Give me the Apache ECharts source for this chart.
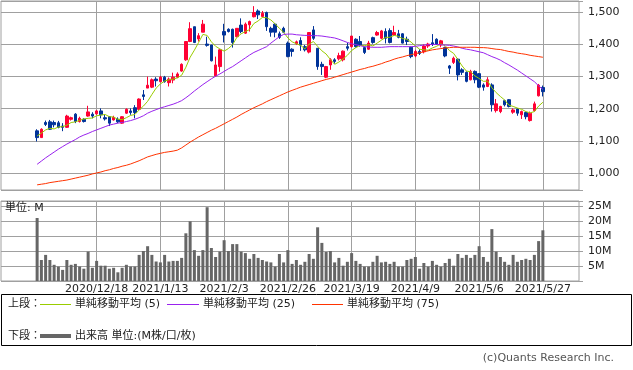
<!DOCTYPE html>
<html><head><meta charset="utf-8">
<script src="https://cdn.jsdelivr.net/npm/echarts@6/dist/echarts.min.js"></script>
<style>html,body{margin:0;padding:0;background:#fff}#c{width:633px;height:370px}</style>
</head><body><div id="c"></div>
<script>
const dates = ['2020/11/30','2020/12/1','2020/12/2','2020/12/3','2020/12/4','2020/12/7','2020/12/8','2020/12/9','2020/12/10','2020/12/11',
 '2020/12/14','2020/12/15','2020/12/16','2020/12/17','2020/12/18','2020/12/21','2020/12/22','2020/12/23','2020/12/24','2020/12/25',
 '2020/12/28','2020/12/29','2020/12/30','2021/1/4','2021/1/5','2021/1/6','2021/1/7','2021/1/8','2021/1/12','2021/1/13',
 '2021/1/14','2021/1/15','2021/1/18','2021/1/19','2021/1/20','2021/1/21','2021/1/22','2021/1/25','2021/1/26','2021/1/27',
 '2021/1/28','2021/1/29','2021/2/1','2021/2/2','2021/2/3','2021/2/4','2021/2/5','2021/2/8','2021/2/9','2021/2/10',
 '2021/2/12','2021/2/15','2021/2/16','2021/2/17','2021/2/18','2021/2/19','2021/2/22','2021/2/24','2021/2/25','2021/2/26',
 '2021/3/1','2021/3/2','2021/3/3','2021/3/4','2021/3/5','2021/3/8','2021/3/9','2021/3/10','2021/3/11','2021/3/12',
 '2021/3/15','2021/3/16','2021/3/17','2021/3/18','2021/3/19','2021/3/22','2021/3/23','2021/3/24','2021/3/25','2021/3/26',
 '2021/3/29','2021/3/30','2021/3/31','2021/4/1','2021/4/2','2021/4/5','2021/4/6','2021/4/7','2021/4/8','2021/4/9',
 '2021/4/12','2021/4/13','2021/4/14','2021/4/15','2021/4/16','2021/4/19','2021/4/20','2021/4/21','2021/4/22','2021/4/23',
 '2021/4/26','2021/4/27','2021/4/28','2021/4/30','2021/5/6','2021/5/7','2021/5/10','2021/5/11','2021/5/12','2021/5/13',
 '2021/5/14','2021/5/17','2021/5/18','2021/5/19','2021/5/20','2021/5/21','2021/5/24','2021/5/25','2021/5/26','2021/5/27'];

const open = [1131,1110,1157,1159,1157,1156,1146,1142,1167,1183,
 1160,1167,1177,1183,1184,1193,1172,1175,1165,1167,
 1155,1186,1193,1203,1198,1243,1264,1267,1292,1284,
 1298,1281,1289,1298,1317,1352,1409,1455,1417,1438,
 1401,1398,1302,1331,1440,1447,1447,1424,1460,1435,
 1461,1486,1504,1487,1499,1450,1463,1433,1450,1404,
 1385,1402,1412,1393,1376,1445,1388,1338,1298,1336,
 1352,1355,1352,1393,1393,1416,1409,1390,1385,1421,
 1429,1419,1440,1443,1429,1433,1433,1416,1391,1364,
 1378,1377,1395,1405,1416,1398,1390,1333,1344,1354,
 1321,1313,1290,1316,1309,1274,1269,1274,1194,1191,
 1225,1228,1189,1199,1181,1188,1163,1194,1240,1266];

const close = [1110,1136,1151,1136,1150,1142,1142,1177,1172,1160,
 1170,1160,1190,1177,1193,1181,1168,1155,1173,1159,
 1175,1198,1188,1188,1230,1238,1273,1290,1287,1298,
 1284,1292,1298,1308,1338,1409,1449,1406,1427,1463,
 1397,1349,1336,1383,1429,1440,1406,1450,1440,1463,
 1471,1499,1492,1497,1455,1438,1438,1422,1438,1362,
 1378,1408,1398,1383,1437,1419,1331,1331,1331,1352,
 1347,1365,1379,1388,1426,1393,1398,1375,1404,1406,
 1437,1442,1419,1406,1437,1422,1404,1409,1362,1378,
 1372,1395,1401,1401,1401,1411,1364,1326,1357,1305,
 1313,1285,1316,1290,1267,1267,1290,1212,1215,1207,
 1212,1207,1196,1186,1191,1175,1186,1215,1273,1253];

const low = [1098,1110,1146,1134,1142,1139,1130,1140,1163,1155,
 1157,1157,1175,1170,1181,1170,1163,1146,1163,1155,
 1153,1184,1181,1170,1196,1227,1264,1264,1269,1282,
 1281,1269,1279,1295,1315,1349,1407,1404,1409,1438,
 1393,1347,1300,1315,1406,1437,1390,1422,1435,1433,
 1440,1484,1479,1484,1442,1424,1422,1417,1435,1360,
 1362,1398,1380,1378,1372,1414,1321,1305,1295,1321,
 1340,1350,1347,1381,1390,1390,1393,1370,1383,1402,
 1427,1416,1403,1403,1426,1419,1403,1398,1357,1360,
 1367,1372,1389,1395,1398,1391,1360,1308,1339,1288,
 1305,1282,1288,1279,1264,1256,1267,1191,1188,1186,
 1207,1204,1184,1178,1168,1167,1160,1191,1238,1238];

const high = [1136,1139,1163,1165,1163,1162,1155,1181,1175,1186,
 1175,1170,1209,1189,1196,1201,1181,1177,1178,1173,
 1177,1201,1201,1211,1232,1258,1300,1294,1298,1302,
 1302,1297,1312,1313,1341,1410,1469,1455,1435,1476,
 1424,1398,1362,1385,1464,1450,1449,1450,1481,1468,
 1474,1519,1509,1504,1502,1455,1466,1440,1455,1409,
 1388,1412,1422,1398,1437,1457,1388,1346,1333,1357,
 1357,1374,1381,1405,1426,1419,1426,1393,1411,1424,
 1442,1445,1450,1450,1458,1445,1435,1424,1393,1383,
 1385,1400,1405,1432,1419,1414,1393,1336,1362,1357,
 1326,1316,1321,1319,1311,1279,1298,1279,1230,1209,
 1228,1230,1201,1201,1194,1191,1191,1222,1277,1272];

const ma5 = [1115,1124,1134,1139,1137,1143,1144,1149,1157,1159,
 1164,1168,1170,1171,1178,1180,1182,1175,1174,1167,
 1166,1172,1179,1182,1196,1208,1223,1244,1264,1277,
 1286,1290,1292,1296,1304,1329,1360,1382,1406,1431,
 1428,1408,1394,1386,1379,1387,1399,1422,1433,1440,
 1446,1465,1473,1484,1483,1476,1464,1450,1438,1420,
 1408,1402,1397,1386,1401,1409,1394,1380,1370,1353,
 1338,1345,1355,1366,1381,1390,1397,1396,1399,1395,
 1404,1413,1422,1422,1428,1425,1418,1416,1407,1395,
 1385,1383,1382,1389,1394,1402,1396,1381,1372,1353,
 1333,1317,1315,1302,1294,1285,1286,1265,1250,1238,
 1227,1211,1207,1202,1198,1191,1187,1191,1208,1220];

const ma25 = [1027,1037,1047,1056,1065,1074,1082,1090,1097,1104,
 1112,1118,1123,1129,1134,1139,1144,1149,1152,1155,
 1157,1160,1163,1167,1172,1178,1186,1192,1197,1202,
 1206,1210,1214,1219,1225,1234,1244,1255,1265,1275,
 1284,1293,1301,1308,1316,1324,1331,1340,1349,1358,
 1367,1375,1381,1387,1393,1404,1414,1424,1431,1432,
 1432,1430,1429,1428,1428,1427,1427,1426,1424,1422,
 1420,1416,1411,1406,1402,1399,1396,1393,1392,1391,
 1391,1391,1392,1393,1393,1393,1393,1393,1393,1394,
 1396,1398,1399,1400,1400,1399,1398,1397,1395,1392,
 1388,1385,1383,1380,1377,1374,1368,1362,1357,1351,
 1343,1336,1328,1320,1311,1302,1293,1284,1271,1260];

const ma75 = [963,965,967,970,972,974,976,978,981,984,
 987,990,993,997,1000,1003,1007,1010,1014,1017,
 1021,1024,1028,1033,1038,1044,1050,1054,1058,1061,
 1064,1066,1068,1071,1078,1087,1096,1104,1112,1119,
 1126,1133,1139,1146,1153,1160,1167,1174,1182,1189,
 1196,1203,1209,1215,1222,1228,1234,1240,1246,1252,
 1257,1262,1267,1271,1275,1279,1283,1287,1291,1294,
 1298,1302,1306,1310,1314,1318,1322,1325,1329,1332,
 1336,1340,1345,1349,1354,1358,1361,1365,1368,1371,
 1374,1377,1380,1383,1385,1387,1389,1390,1391,1391,
 1391,1391,1391,1391,1390,1390,1389,1387,1385,1384,
 1381,1378,1376,1373,1371,1369,1366,1364,1362,1360];

const volume = [21.0,7.0,8.7,7.0,5.4,4.8,3.7,7.0,5.4,5.7,
 4.8,4.1,9.8,4.4,6.7,5.1,5.1,4.1,4.4,2.9,
 4.4,5.4,4.8,4.8,8.7,10.0,11.6,8.7,6.5,6.2,
 8.7,6.5,6.7,6.7,7.7,15.9,19.9,10.3,8.4,10.3,
 24.6,11.0,8.0,9.8,13.6,10.0,12.3,12.3,9.8,9.3,
 7.4,9.0,7.7,7.0,6.5,6.2,4.8,9.0,6.2,10.3,
 5.7,7.0,5.4,6.4,9.0,7.4,17.9,12.7,9.7,10.0,
 6.2,7.7,5.1,6.4,9.3,6.7,5.7,4.8,4.8,6.4,
 8.4,6.2,6.4,5.7,6.4,4.8,4.8,7.0,7.4,8.0,
 4.1,6.0,4.8,6.7,5.4,4.8,6.0,7.4,5.1,9.0,
 7.7,8.7,7.7,8.7,11.6,8.0,6.4,17.3,9.8,8.0,
 6.4,5.4,8.7,6.4,7.0,7.4,7.0,8.7,13.3,16.9];

const tickLabels = ['2020/12/18','2021/1/13','2021/2/3','2021/2/26','2021/3/19','2021/4/9','2021/5/6','2021/5/27'];

// empty slots on each side of the data (layout only)
const PAD = 8;
const cats = Array.from({length: PAD}, (_, k) => 'L' + k)
  .concat(dates, Array.from({length: PAD}, (_, k) => 'R' + k));
const blank = Array(PAD).fill('-');
const pad = arr => blank.concat(arr, blank);
const candles = pad(dates.map((d, i) => [open[i], close[i], low[i], high[i]]));

const FONT = '"DejaVu Sans", "Noto Sans CJK JP", sans-serif';
const GRID = '#a0a0a0';
const UP = '#ff0033', DOWN = '#003399';
const C5 = '#99cc00', C25 = '#9922ee', C75 = '#ff3300', CVOL = '#666666';
const comma = v => String(v).replace(/\B(?=(\d{3})+(?!\d))/g, ',');

const vLines = {
  silent: true, z: 1, symbol: ['none', 'none'], label: {show: false},
  lineStyle: {color: GRID, type: 'solid', width: 1},
  emphasis: {disabled: true},
  data: tickLabels.map(d => ({xAxis: d}))
};

const chart = echarts.init(document.getElementById('c'), null, {renderer: 'canvas'});
chart.setOption({
  animation: false,
  textStyle: {fontFamily: FONT},
  grid: [
    {left: 1, top: 1, width: 578, height: 189, show: true, borderColor: GRID, borderWidth: 1, backgroundColor: '#fff'},
    {left: 1, top: 201, width: 578, height: 80, show: true, borderColor: GRID, borderWidth: 1, backgroundColor: '#fff'}
  ],
  xAxis: [
    {type: 'category', gridIndex: 0, data: cats, boundaryGap: true,
     axisLine: {show: false}, axisTick: {show: false}, axisLabel: {show: false}, splitLine: {show: false}},
    {type: 'category', gridIndex: 1, data: cats, boundaryGap: true,
     axisLine: {show: false}, axisTick: {show: false}, splitLine: {show: false},
     axisLabel: {show: true, interval: (i, v) => tickLabels.includes(v), color: '#222', fontSize: 11, margin: 3, fontFamily: FONT}}
  ],
  yAxis: [
    {type: 'value', gridIndex: 0, position: 'right', min: 947, max: 1535, splitNumber: 5,
     axisLine: {show: false}, axisTick: {show: true, length: 4, lineStyle: {color: GRID}},
     axisLabel: {color: '#222', fontSize: 11, margin: 9, fontFamily: FONT,
       formatter: v => (v % 100 === 0 ? comma(v) : '')},
     splitLine: {show: true, lineStyle: {color: GRID, width: 1}}},
    {type: 'value', gridIndex: 1, position: 'right', min: 0, max: 26.67, splitNumber: 5,
     axisLine: {show: false}, axisTick: {show: true, length: 4, lineStyle: {color: GRID}},
     axisLabel: {color: '#222', fontSize: 11, margin: 9, fontFamily: FONT,
       formatter: v => (v > 0 && v % 5 === 0 ? v + 'M' : '')},
     splitLine: {show: true, lineStyle: {color: GRID, width: 1}}}
  ],
  series: [
    {type: 'candlestick', name: '株価', xAxisIndex: 0, yAxisIndex: 0, data: candles, barWidth: 3, silent: true, z: 2,
     itemStyle: {color: UP, color0: DOWN, borderColor: UP, borderColor0: DOWN, borderWidth: 1},
     markLine: vLines},
    {type: 'line', name: '単純移動平均 (5)', xAxisIndex: 0, yAxisIndex: 0, data: pad(ma5), showSymbol: false, silent: true, z: 3,
     lineStyle: {color: C5, width: 1}, itemStyle: {color: C5}},
    {type: 'line', name: '単純移動平均 (25)', xAxisIndex: 0, yAxisIndex: 0, data: pad(ma25), showSymbol: false, silent: true, z: 3,
     lineStyle: {color: C25, width: 1}, itemStyle: {color: C25}},
    {type: 'line', name: '単純移動平均 (75)', xAxisIndex: 0, yAxisIndex: 0, data: pad(ma75), showSymbol: false, silent: true, z: 3,
     lineStyle: {color: C75, width: 1}, itemStyle: {color: C75}},
    {type: 'bar', name: '出来高', xAxisIndex: 1, yAxisIndex: 1, data: pad(volume), barWidth: 3, silent: true, z: 2,
     itemStyle: {color: CVOL}, markLine: vLines}
  ],
  graphic: [
    {type: 'text', silent: true, z: 10, style: {x: 5, y: 208, text: '単位: M', fill: '#222', font: '11px ' + FONT, verticalAlign: 'middle'}},
    {type: 'rect', silent: true, shape: {x: 1.5, y: 294.5, width: 630, height: 51}, style: {fill: 'none', stroke: '#000', lineWidth: 1}},
    {type: 'text', silent: true, style: {x: 8, y: 304, text: '上段：', fill: '#222', font: '11px ' + FONT, verticalAlign: 'middle'}},
    {type: 'line', silent: true, shape: {x1: 40, y1: 304.5, x2: 71, y2: 304.5}, style: {stroke: C5, lineWidth: 1}},
    {type: 'text', silent: true, style: {x: 75, y: 304, text: '単純移動平均 (5)', fill: '#222', font: '11px ' + FONT, verticalAlign: 'middle'}},
    {type: 'line', silent: true, shape: {x1: 167, y1: 304.5, x2: 199, y2: 304.5}, style: {stroke: C25, lineWidth: 1}},
    {type: 'text', silent: true, style: {x: 203, y: 304, text: '単純移動平均 (25)', fill: '#222', font: '11px ' + FONT, verticalAlign: 'middle'}},
    {type: 'line', silent: true, shape: {x1: 312, y1: 304.5, x2: 343, y2: 304.5}, style: {stroke: C75, lineWidth: 1}},
    {type: 'text', silent: true, style: {x: 347, y: 304, text: '単純移動平均 (75)', fill: '#222', font: '11px ' + FONT, verticalAlign: 'middle'}},
    {type: 'text', silent: true, style: {x: 8, y: 336, text: '下段：', fill: '#222', font: '11px ' + FONT, verticalAlign: 'middle'}},
    {type: 'line', silent: true, shape: {x1: 40, y1: 336, x2: 71, y2: 336}, style: {stroke: CVOL, lineWidth: 4}},
    {type: 'text', silent: true, style: {x: 75, y: 336, text: '出来高 単位:(M株/口/枚)', fill: '#222', font: '11px ' + FONT, verticalAlign: 'middle'}},
    {type: 'text', silent: true, style: {x: 614, y: 358, text: '(c)Quants Research Inc.', fill: '#555', font: '11px ' + FONT, align: 'right', verticalAlign: 'middle'}}
  ]
});
</script>
</body></html>
